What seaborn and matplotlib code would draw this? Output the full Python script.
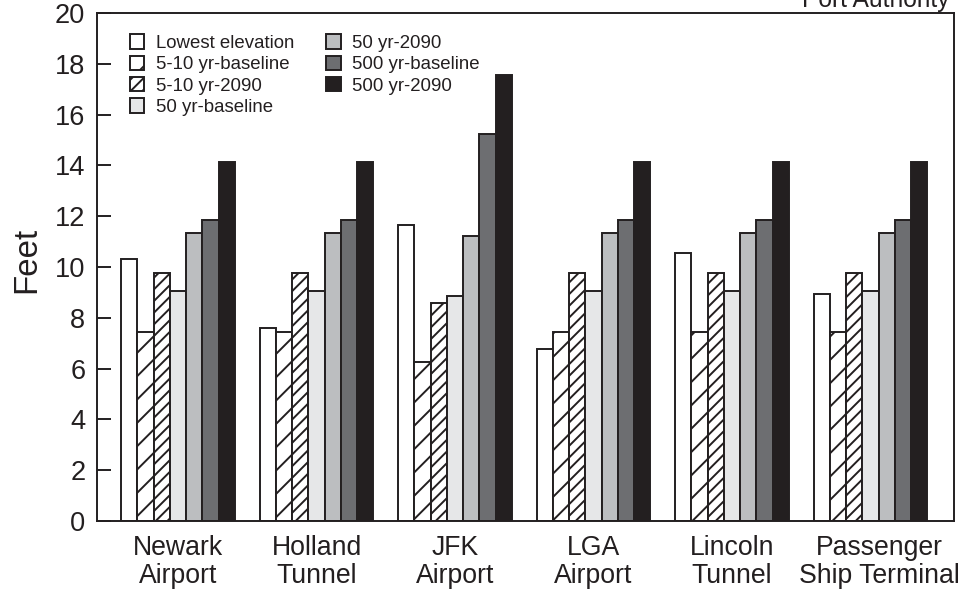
import numpy as np
import pandas as pd
import matplotlib
matplotlib.use("Agg")
import matplotlib.pyplot as plt
from matplotlib.patches import Patch
from matplotlib.transforms import ScaledTranslation
import seaborn as sns

# Facilities along the x axis
facilities = ["Newark\nAirport", "Holland\nTunnel", "JFK\nAirport",
              "LGA\nAirport", "Lincoln\nTunnel", "Passenger\nShip Terminal"]

# Elevation / flood heights (feet) per facility
lowest_elevation = [10.3, 7.6, 11.65, 6.77, 10.54, 8.93]
flood_5_10_baseline = [7.45, 7.45, 6.27, 7.45, 7.45, 7.45]
flood_5_10_2090 = [9.78, 9.78, 8.57, 9.78, 9.78, 9.78]
flood_50_baseline = [9.07, 9.07, 8.87, 9.07, 9.07, 9.07]
flood_50_2090 = [11.33, 11.33, 11.22, 11.33, 11.33, 11.33]
flood_500_baseline = [11.85, 11.85, 15.24, 11.85, 11.85, 11.85]
flood_500_2090 = [14.15, 14.15, 17.56, 14.15, 14.15, 14.15]

series_names = ["Lowest elevation", "5-10 yr-baseline", "5-10 yr-2090",
                "50 yr-baseline", "50 yr-2090", "500 yr-baseline", "500 yr-2090"]
series_values = [lowest_elevation, flood_5_10_baseline, flood_5_10_2090,
                 flood_50_baseline, flood_50_2090, flood_500_baseline, flood_500_2090]

face_colors = ["#ffffff", "#ffffff", "#ffffff", "#e6e7e8", "#bcbec0", "#6d6e71", "#231f20"]
hatches = [None, "//", "////", None, None, None, None]
edge = "#231f20"

df = pd.DataFrame({
    "facility": np.repeat([facilities], len(series_names), axis=0).ravel(),
    "series": np.repeat(series_names, len(facilities)),
    "feet": np.concatenate(series_values),
})

sns.set_style("white")
plt.rcParams["font.family"] = ["Liberation Sans", "DejaVu Sans"]
plt.rcParams["hatch.linewidth"] = 1.0
plt.rcParams["hatch.color"] = edge

DPI = 140
fig = plt.figure(figsize=(963 / DPI, 595 / DPI), dpi=DPI)
ax = fig.add_axes([97 / 963, 1 - 521 / 595, (954 - 97) / 963, (521 - 13) / 595])

sns.barplot(data=df, x="facility", y="feet", hue="series",
            order=facilities, hue_order=series_names,
            palette=face_colors, width=0.82, legend=False, ax=ax,
            saturation=1, errorbar=None)

for cont, fc, h in zip(ax.containers, face_colors, hatches):
    for bar in cont:
        bar.set_facecolor(fc)
        bar.set_edgecolor(edge)
        bar.set_linewidth(1.0)
        if h:
            bar.set_hatch(h)

ax.set_ylim(0, 20)
ax.set_xlim(-0.585, 5.603)
ax.set_yticks(range(0, 21, 2))
ax.set_xlabel("")
ax.set_ylabel("Feet", fontsize=17, color="#231f20")
ax.yaxis.set_label_coords(-0.064, 0.513)

for s in ax.spines.values():
    s.set_visible(True)
    s.set_color(edge)
    s.set_linewidth(1.0)

ax.tick_params(axis="y", direction="in", length=7, width=1.0, color=edge,
               labelsize=14, labelcolor="#231f20", pad=6, left=True)
ax.tick_params(axis="x", length=0, labelsize=13.7, labelcolor="#231f20", pad=7)
xlabels = ax.get_xticklabels()
for lab in xlabels:
    lab.set_linespacing(1.1)
# the long two-line label sits a little right of its group
xlabels[-1].set_transform(xlabels[-1].get_transform()
                          + ScaledTranslation(9 / DPI, 0, fig.dpi_scale_trans))

handles = [Patch(facecolor=fc, edgecolor=edge, hatch=h, linewidth=1.0)
           for fc, h in zip(face_colors, hatches)]
ax.legend(handles, series_names, loc="upper left", bbox_to_anchor=(0.038, 0.958),
          ncol=2, frameon=False, fontsize=9.6, handlelength=0.8, handleheight=0.8,
          handletextpad=0.6, columnspacing=1.7, labelspacing=0.2, borderpad=0,
          borderaxespad=0, labelcolor="#231f20")

fig.text(950 / 963, 1 - 7 / 595, "Port Authority", ha="right", va="baseline",
         fontsize=12.7, color="#231f20")

fig.savefig("out.png", dpi=DPI)
